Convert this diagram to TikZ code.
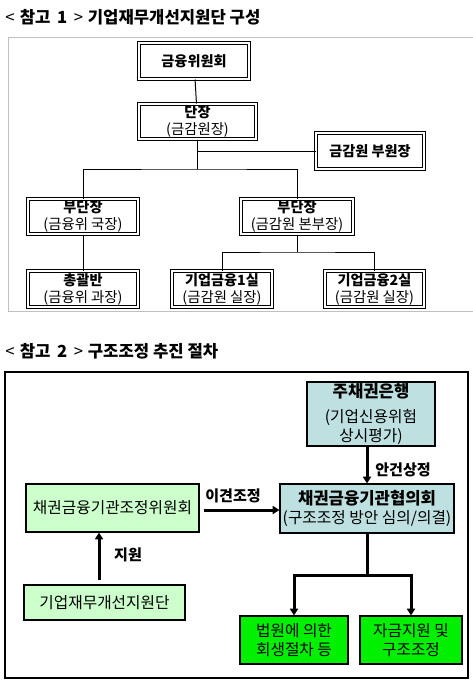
\documentclass[tikz,border=0pt]{standalone}
\usepackage{fontspec}
\setmainfont{Noto Sans CJK KR}
\usetikzlibrary{arrows.meta}

\definecolor{bankblue}{RGB}{190,224,224}
\definecolor{palegreen}{RGB}{204,255,204}
\definecolor{brightgreen}{RGB}{0,240,0}
\definecolor{framegray}{RGB}{192,192,192}

\tikzset{
  orgbox/.style={draw, double, double distance=1.5pt, line width=0.75pt, fill=white, inner sep=0pt, align=center, font=\fontsize{10.8}{12.75}\selectfont},
  stepbox/.style={draw, line width=0.9pt, inner sep=0pt, align=center, font=\fontsize{11.8}{14.5}\selectfont},
  flow/.style={line width=2.25pt, -{Triangle[length=5pt,width=6pt]}},
  tie/.style={line width=0.75pt},
  lbl/.style={inner sep=0.75pt, font=\bfseries\fontsize{11.3}{13}\selectfont},
  headline/.style={anchor=west, inner sep=0pt, font=\bfseries\fontsize{12.5}{14}\selectfont},
}
\newcommand{\orgtitle}[1]{{\bfseries\fontsize{10.6}{12.75}\selectfont #1}}

\begin{document}
\begin{tikzpicture}[x=0.75pt,y=0.75pt,yscale=-1,xscale=1]
        \useasboundingbox (0,0) rectangle (472,682);

        % Text Node
        \node[headline] (title1) at (5,17) {{\mdseries <}\hspace{4pt}참고\hspace{5pt}1\hspace{5pt}{\mdseries >}\hspace{3.5pt}기업재무개선지원단 구성};
        %Shape: Rectangle
        \draw [color=framegray, line width=0.75pt] (8,37) rectangle (474,311);

        %Shape: Org boxes
        \node[orgbox, minimum width=82.5pt, minimum height=27pt] (fsc) at (194,61) {\orgtitle{금융위원회}};
        \node[orgbox, minimum width=87.75pt, minimum height=26.25pt] (head) at (197.5,121.5) {\orgtitle{단장}\\(금감원장)};
        \node[orgbox, minimum width=81pt, minimum height=27pt] (vice) at (370,151) {\orgtitle{금감원 부원장}};
        \node[orgbox, minimum width=82.5pt, minimum height=26.25pt] (dep1) at (83,216.5) {\orgtitle{부단장}\\(금융위 국장)};
        \node[orgbox, minimum width=84pt, minimum height=26.25pt] (dep2) at (297,216.5) {\orgtitle{부단장}\\(금감원 본부장)};
        \node[orgbox, minimum width=82.5pt, minimum height=27pt] (ctrl) at (83,289) {\orgtitle{총괄반}\\(금융위 과장)};
        \node[orgbox, minimum width=75pt, minimum height=27pt] (sec1) at (222,289) {\orgtitle{기업금융1실}\\(금감원 실장)};
        \node[orgbox, minimum width=74.25pt, minimum height=27pt] (sec2) at (374.5,289) {\orgtitle{기업금융2실}\\(금감원 실장)};

        %Straight Lines
        \coordinate (split1) at (head.south |- 0,169);
        \coordinate (split2) at (dep2.south |- 0,252);
        \draw [tie] (fsc) -- (head);
        \draw [tie] (head.south) |- (vice.west);
        \draw [tie] (head.south) -- (split1);
        \draw [tie] (dep1.north) |- (split1) -| (dep2.north);
        \draw [tie] (dep1) -- (ctrl);
        \draw [tie] (dep2.south) -- (split2);
        \draw [tie] (sec1.north) |- (split2) -| (sec2.north);

        % Text Node
        \node[headline] (title2) at (5,351) {{\mdseries <}\hspace{4pt}참고\hspace{5pt}2\hspace{5pt}{\mdseries >}\hspace{3.5pt}구조조정 추진 절차};
        %Shape: Rectangle
        \draw [line width=1.1pt] (5,372) rectangle (468,678);

        %Shape: Step boxes
        \node[stepbox, fill=bankblue, minimum width=96pt, minimum height=48pt] (bank) at (371,414) {{\bfseries\fontsize{12.5}{14.5}\selectfont 주채권은행}\\[4pt](기업신용위험\\상시평가)};
        \node[stepbox, fill=bankblue, minimum width=130.5pt, minimum height=36.75pt] (council) at (367,508.5) {{\bfseries\fontsize{12.5}{14.5}\selectfont 채권금융기관협의회}\\(구조조정 방안 심의/의결)};
        \node[stepbox, fill=palegreen, minimum width=129.75pt, minimum height=36pt] (adj) at (112.5,508) {채권금융기관조정위원회};
        \node[stepbox, fill=palegreen, minimum width=120.75pt, minimum height=26.25pt] (team) at (104.5,602.5) {기업재무개선지원단};
        \node[stepbox, fill=brightgreen, minimum width=81pt, minimum height=36pt] (court) at (294,640) {법원에 의한\\회생절차 등};
        \node[stepbox, fill=brightgreen, minimum width=76.5pt, minimum height=36pt] (fund) at (411,640) {자금지원 및\\구조조정};

        %Straight Lines with arrows
        \coordinate (up) at (99,0);
        \coordinate (split3) at (council.south |- 0,575);
        \draw [flow] (bank.south -| council.north) -- (council.north);
        \draw [flow, shorten <=3pt] (adj.east |- 0,510) -- (council.west |- 0,510);
        \draw [flow, shorten <=3pt] (team.north -| up) -- (adj.south -| up);
        \draw [line width=2.25pt] (council.south) -- (split3);
        \draw [flow] (split3) -| (court.north);
        \draw [flow] (split3) -| (fund.north);

        % Text Node
        \node[lbl] (lblagenda) at (403,470) {안건상정};
        \node[lbl] (lbldispute) at (233,496) {이견조정};
        \node[lbl] (lblsupport) at (128,555) {지원};

\end{tikzpicture}
\end{document}
